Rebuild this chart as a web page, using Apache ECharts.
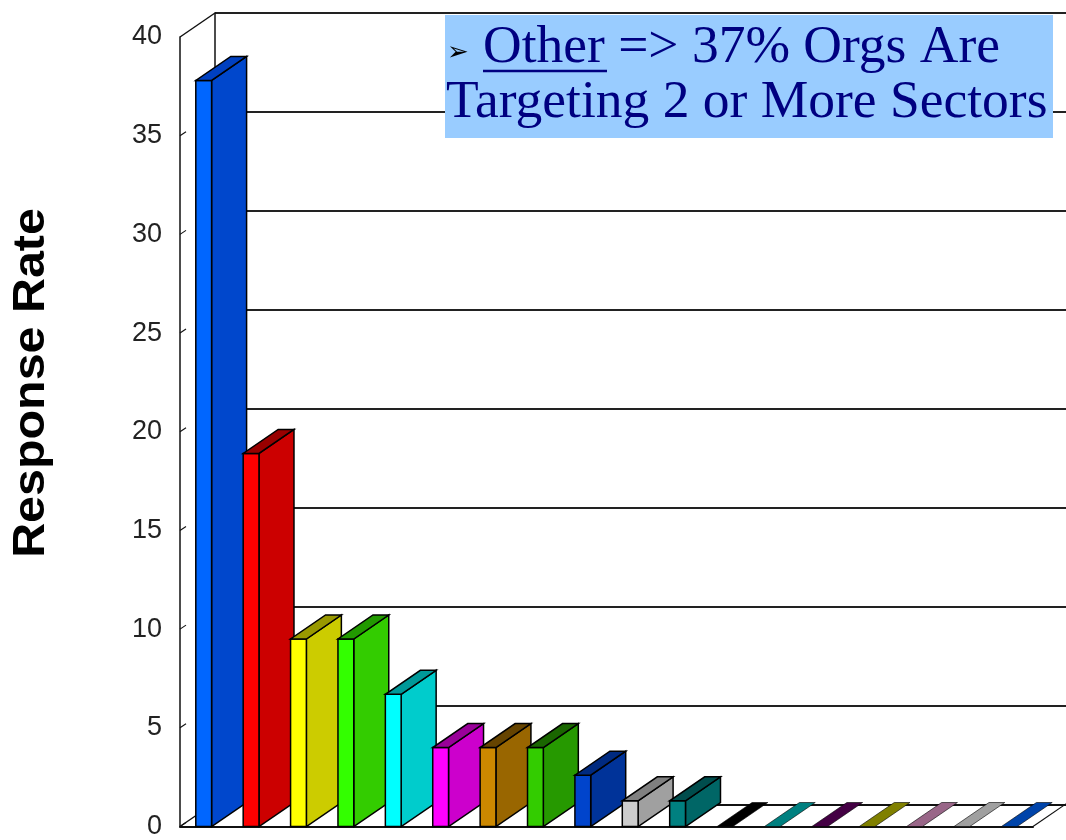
<!DOCTYPE html>
<html><head><meta charset="utf-8">
<script src="https://cdn.jsdelivr.net/npm/echarts@6/dist/echarts.min.js"></script>
<style>html,body{margin:0;padding:0;background:#fff}#c{width:1066px;height:840px}</style>
</head><body><div id="c"></div>
<script>
// ---- data ----
const categories = ['Other','Cat 2','Cat 3','Cat 4','Cat 5','Cat 6','Cat 7','Cat 8','Cat 9','Cat 10','Cat 11','Cat 12','Cat 13','Cat 14','Cat 15','Cat 16','Cat 17','Cat 18'];
const values = [37.8, 18.9, 9.5, 9.5, 6.7, 4.0, 4.0, 4.0, 2.6, 1.3, 1.3, 0, 0, 0, 0, 0, 0, 0];
const yTicks = [0, 5, 10, 15, 20, 25, 30, 35, 40];
const yTitle = 'Response Rate';
const noteLine1 = 'Other => 37% Orgs Are';
const noteLine2 = 'Targeting 2 or More Sectors';

// ---- styles ----
const frontColors = ['#0066FF','#FF0000','#FFFF00','#33FF00','#00FFFF','#FF00FF','#CC8800','#33CC00','#0044CC','#CCCCCC','#008080','#000000','#008080','#440044','#808000','#996688','#A0A0A0','#0044AA'];
const sideColors  = ['#0047CC','#CC0000','#CCCC00','#33CC00','#00CCCC','#CC00CC','#996600','#269900','#003399','#A0A0A0','#006666','#000000','#008080','#440044','#808000','#996688','#A0A0A0','#0044AA'];
const topColors   = ['#0040C0','#990000','#999900','#229900','#009999','#990099','#664400','#1A6600','#002A80','#808080','#004D4D','#000000','#008080','#440044','#808000','#996688','#A0A0A0','#0044AA'];
const DX = 35, DY = -24;
const LINE = '#111';

const chart = echarts.init(document.getElementById('c'), null, {renderer: 'canvas'});

function renderBar(params, api) {
  const i = api.value(0), v = api.value(1);
  const base = api.coord([i, 0]);
  const top = api.coord([i, v]);
  const band = api.size([1, 0])[0];
  const w = band / 3;
  const L = base[0] - w / 2, R = base[0] + w / 2;
  const y0 = base[1], y1 = top[1];
  const st = {stroke: '#000', lineWidth: 1.5, lineJoin: 'miter'};
  const children = [];
  if (v > 0) {
    children.push({type: 'polygon', shape: {points: [[R, y1], [R + DX, y1 + DY], [R + DX, y0 + DY], [R, y0]]},
      style: Object.assign({}, st, {fill: sideColors[i]})});
    children.push({type: 'rect', shape: {x: L, y: y1, width: w, height: y0 - y1},
      style: Object.assign({}, st, {fill: frontColors[i]})});
    children.push({type: 'polygon', shape: {points: [[L, y1], [R, y1], [R + DX, y1 + DY], [L + DX, y1 + DY]]},
      style: Object.assign({}, st, {fill: topColors[i]})});
  } else {
    children.push({type: 'polygon', shape: {points: [[L, y1], [R, y1], [R + DX, y1 + DY], [L + DX, y1 + DY]]},
      style: {fill: topColors[i], stroke: '#000', lineWidth: 0.6}});
  }
  return {type: 'group', children};
}

function renderFrame(params, api) {
  const cs = params.coordSys;
  const v = api.value(0);
  const y = api.coord([0, v])[1];
  const children = [];
  if (v === yTicks[yTicks.length - 1]) {
    children.push({type: 'line', shape: {x1: cs.x, y1: cs.y, x2: cs.x + DX, y2: cs.y + DY}, style: {stroke: LINE, lineWidth: 1.5}});
    children.push({type: 'line', shape: {x1: cs.x, y1: cs.y + cs.height, x2: cs.x + DX, y2: cs.y + cs.height + DY}, style: {stroke: LINE, lineWidth: 1.5}});
    children.push({type: 'line', shape: {x1: cs.x + cs.width, y1: cs.y + cs.height, x2: cs.x + cs.width + DX, y2: cs.y + cs.height + DY}, style: {stroke: LINE, lineWidth: 1.2}});
  } else {
    children.push({type: 'line', shape: {x1: cs.x, y1: y, x2: cs.x + 6, y2: y - 4}, style: {stroke: LINE, lineWidth: 1.2}});
  }
  return {type: 'group', children};
}

const option = {
  animation: false,
  backgroundColor: '#fff',
  grid: [
    {left: 180, right: 33, top: 37, bottom: 11},
    {left: 215, right: 0, top: 13, bottom: 35}
  ],
  xAxis: [
    {type: 'category', gridIndex: 0, data: categories, axisLabel: {show: false}, axisTick: {show: false},
     axisLine: {show: true, lineStyle: {color: LINE, width: 2}}, splitLine: {show: false}},
    {type: 'category', gridIndex: 1, data: categories, axisLabel: {show: false}, axisTick: {show: false},
     axisLine: {show: true, lineStyle: {color: LINE, width: 2}}, splitLine: {show: false}}
  ],
  yAxis: [
    {type: 'value', gridIndex: 0, min: 0, max: 40, interval: 5,
     axisLine: {show: true, lineStyle: {color: LINE, width: 1.5}}, axisTick: {show: false}, splitLine: {show: false},
     axisLabel: {color: '#222', fontSize: 27, fontFamily: 'Liberation Sans', margin: 18,
       formatter: function (v) { return yTicks.indexOf(v) >= 0 ? String(v) : ''; }}},
    {type: 'value', gridIndex: 1, min: 0, max: 40, interval: 5,
     axisLine: {show: true, lineStyle: {color: LINE, width: 1.5}}, axisTick: {show: false}, axisLabel: {show: false},
     splitLine: {show: true, lineStyle: {color: '#222', width: 2}}}
  ],
  series: [
    {type: 'custom', name: 'frame', xAxisIndex: 0, yAxisIndex: 0, clip: false, z: 3,
     data: yTicks.map(function (t) { return [t]; }), renderItem: renderFrame, silent: true},
    {type: 'custom', name: 'Response Rate', xAxisIndex: 0, yAxisIndex: 0, clip: false, z: 4,
     data: values.map(function (v, i) { return [i, v]; }), renderItem: renderBar,
     encode: {x: 0, y: 1}}
  ],
  graphic: [
    {type: 'text', x: 32, y: 383, rotation: Math.PI / 2, scaleX: 1.1, z: 10,
     style: {text: yTitle, font: 'bold 44px "Liberation Sans", Arial, sans-serif', fill: '#000', align: 'center', verticalAlign: 'middle'}},
    {type: 'rect', shape: {x: 445, y: 15, width: 608, height: 123}, style: {fill: '#99CCFF'}, z: 20},
    {type: 'text', x: 458, y: 53, z: 21,
     style: {text: '\u27A2', font: '26px "DejaVu Sans"', fill: '#000', align: 'center', verticalAlign: 'middle'}},
    {type: 'text', x: 483, y: 48, z: 21,
     style: {text: noteLine1, font: '53.5px "Liberation Serif", "Times New Roman", serif', fill: '#000080', align: 'left', verticalAlign: 'middle'}},
    {type: 'line', shape: {x1: 483, y1: 71, x2: 607, y2: 71}, style: {stroke: '#000080', lineWidth: 2.5}, z: 21},
    {type: 'text', x: 446, y: 103, z: 21,
     style: {text: noteLine2, font: '53.5px "Liberation Serif", "Times New Roman", serif', fill: '#000080', align: 'left', verticalAlign: 'middle'}}
  ]
};
chart.setOption(option);
</script>
</body></html>
